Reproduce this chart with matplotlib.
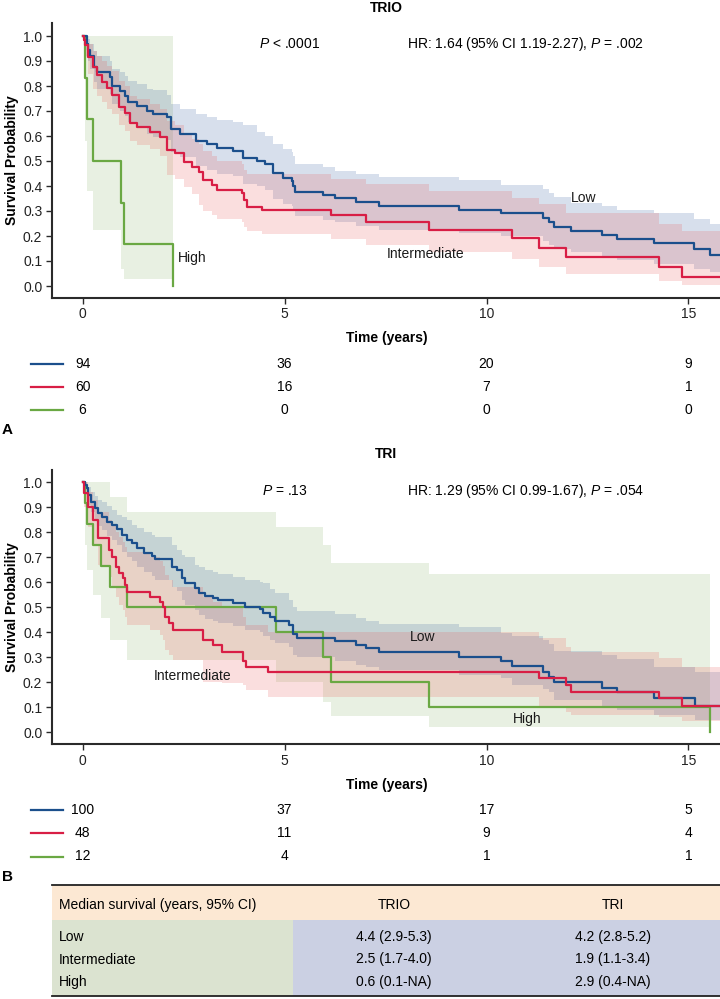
import matplotlib
matplotlib.use('Agg')
import matplotlib.pyplot as plt
from matplotlib import transforms
from matplotlib.patches import Rectangle
from matplotlib.lines import Line2D
import numpy as np

plt.rcParams['font.family'] = ['Liberation Sans', 'DejaVu Sans']
plt.rcParams['mathtext.fontset'] = 'custom'
plt.rcParams['mathtext.it'] = 'Liberation Sans:italic'
plt.rcParams['mathtext.rm'] = 'Liberation Sans'

# ---------------- DATA ----------------
# TRIO - Low
trio_low_t = [0, 0.1, 0.14, 0.18, 0.29, 0.36, 0.68, 0.74, 0.93, 1.05, 1.13, 1.34, 1.59, 1.75, 2.1, 2.2,
              2.41, 2.82, 3.07, 3.32, 3.73, 3.98, 4.31, 4.52, 4.72, 4.97, 5.18, 5.22, 5.26, 5.96, 6.25,
              6.77, 7.34, 9.32, 10.37, 11.39, 11.55, 11.67, 12.1, 12.86, 13.24, 14.14, 15.13, 15.53]
trio_low_s = [1.0, 0.97, 0.944, 0.92, 0.877, 0.855, 0.837, 0.8, 0.78, 0.76, 0.737, 0.72, 0.70, 0.687, 0.677, 0.63,
              0.61, 0.58, 0.567, 0.553, 0.54, 0.513, 0.50, 0.487, 0.453, 0.433, 0.42, 0.40, 0.377, 0.364, 0.351,
              0.335, 0.32, 0.304, 0.291, 0.273, 0.257, 0.237, 0.221, 0.204, 0.187, 0.171, 0.148, 0.125]
trio_low_lo = [1.0, 0.94, 0.9, 0.87, 0.815, 0.79, 0.77, 0.73, 0.70, 0.68, 0.655, 0.635, 0.61, 0.595, 0.585, 0.535,
               0.515, 0.48, 0.465, 0.45, 0.44, 0.41, 0.40, 0.385, 0.35, 0.33, 0.32, 0.30, 0.28, 0.265, 0.255,
               0.24, 0.225, 0.213, 0.2, 0.18, 0.165, 0.148, 0.135, 0.12, 0.105, 0.09, 0.07, 0.055]
trio_low_hi = [1.0, 1.0, 0.99, 0.97, 0.94, 0.92, 0.9, 0.87, 0.857, 0.84, 0.82, 0.81, 0.79, 0.784, 0.764, 0.73,
               0.71, 0.69, 0.675, 0.664, 0.655, 0.644, 0.617, 0.6, 0.57, 0.55, 0.537, 0.52, 0.49, 0.475, 0.46,
               0.448, 0.435, 0.424, 0.404, 0.387, 0.373, 0.357, 0.331, 0.32, 0.304, 0.291, 0.267, 0.248]

# TRIO - Intermediate
trio_int_t = [0, 0.03, 0.06, 0.14, 0.27, 0.35, 0.47, 0.6, 0.72, 0.89, 1.05, 1.18, 1.34, 1.67, 1.92, 2.08,
              2.29, 2.5, 2.7, 2.87, 2.99, 3.2, 3.32, 3.94, 4.0, 4.07, 4.45, 6.14, 7.01, 8.58, 10.62, 11.3,
              11.97, 14.27, 14.85]
trio_int_s = [1.0, 0.983, 0.964, 0.917, 0.877, 0.844, 0.817, 0.791, 0.764, 0.717, 0.691, 0.651, 0.637, 0.617,
              0.597, 0.544, 0.531, 0.497, 0.477, 0.457, 0.424, 0.404, 0.384, 0.371, 0.344, 0.317, 0.304, 0.284,
              0.257, 0.224, 0.191, 0.153, 0.115, 0.077, 0.037]
trio_int_lo = [1.0, 0.95, 0.92, 0.85, 0.79, 0.76, 0.737, 0.71, 0.69, 0.644, 0.62, 0.58, 0.565, 0.55, 0.52, 0.444,
               0.43, 0.397, 0.37, 0.324, 0.30, 0.285, 0.27, 0.255, 0.237, 0.22, 0.207, 0.187, 0.164, 0.137,
               0.107, 0.075, 0.047, 0.021, 0.004]
trio_int_hi = [1.0, 1.0, 0.99, 0.97, 0.94, 0.92, 0.9, 0.88, 0.86, 0.82, 0.8, 0.76, 0.75, 0.73, 0.71, 0.66,
               0.645, 0.61, 0.59, 0.57, 0.54, 0.52, 0.5, 0.49, 0.465, 0.45, 0.448, 0.428, 0.408, 0.381, 0.353,
               0.327, 0.293, 0.248, 0.22]

# TRIO - High
trio_high_t = [0, 0.06, 0.1, 0.27, 0.95, 1.02, 2.23]
trio_high_s = [1.0, 0.833, 0.667, 0.5, 0.333, 0.167, 0.0]
trio_high_lo = [1.0, 0.58, 0.38, 0.225, 0.07, 0.03, 0.03]
trio_high_hi = [1.0, 1.0, 1.0, 1.0, 1.0, 1.0, 1.0]

# TRI - Low
tri_low_t = [0, 0.06, 0.1, 0.14, 0.22, 0.3, 0.39, 0.47, 0.6, 0.72, 0.84, 0.97, 1.09, 1.22, 1.34, 1.51, 1.72,
             1.8, 2.21, 2.33, 2.46, 2.54, 2.79, 2.87, 3.03, 3.24, 3.36, 3.73, 4.02, 4.39, 4.47, 4.64, 4.76,
             5.12, 5.2, 5.3, 6.25, 6.77, 7.01, 7.34, 9.32, 10.37, 10.62, 11.4, 11.55, 11.67, 12.87, 13.24,
             14.14, 15.16]
tri_low_s = [1.0, 0.99, 0.976, 0.949, 0.922, 0.896, 0.876, 0.863, 0.843, 0.83, 0.812, 0.789, 0.769, 0.756,
             0.736, 0.718, 0.705, 0.692, 0.662, 0.649, 0.616, 0.596, 0.576, 0.558, 0.545, 0.536, 0.529, 0.518,
             0.502, 0.492, 0.476, 0.462, 0.446, 0.429, 0.393, 0.378, 0.365, 0.349, 0.338, 0.322, 0.302, 0.285,
             0.265, 0.243, 0.223, 0.203, 0.179, 0.16, 0.136, 0.107]
tri_low_lo = [1.0, 0.97, 0.95, 0.91, 0.88, 0.85, 0.825, 0.81, 0.785, 0.77, 0.75, 0.72, 0.70, 0.685, 0.66, 0.64,
              0.625, 0.61, 0.58, 0.565, 0.53, 0.51, 0.49, 0.47, 0.455, 0.445, 0.438, 0.425, 0.41, 0.40, 0.385,
              0.37, 0.356, 0.34, 0.31, 0.30, 0.285, 0.27, 0.26, 0.249, 0.229, 0.216, 0.189, 0.175, 0.162, 0.129,
              0.105, 0.089, 0.069, 0.049]
tri_low_hi = [1.0, 1.0, 0.99, 0.98, 0.96, 0.945, 0.93, 0.922, 0.905, 0.889, 0.87, 0.86, 0.849, 0.83, 0.816, 0.8,
              0.789, 0.78, 0.749, 0.73, 0.71, 0.702, 0.669, 0.66, 0.649, 0.64, 0.635, 0.622, 0.61, 0.6, 0.596,
              0.575, 0.556, 0.53, 0.502, 0.487, 0.472, 0.456, 0.445, 0.433, 0.42, 0.398, 0.385, 0.37, 0.355,
              0.325, 0.309, 0.292, 0.262, 0.242]

# TRI - Intermediate
tri_int_t = [0, 0.03, 0.14, 0.27, 0.39, 0.66, 0.74, 0.82, 0.91, 0.99, 1.05, 1.09, 1.67, 1.92, 2.0, 2.05, 2.14,
             2.23, 2.97, 3.22, 3.45, 3.97, 4.05, 4.6, 11.3, 11.97, 12.1, 14.27, 14.85]
tri_int_s = [1.0, 0.956, 0.9, 0.85, 0.776, 0.729, 0.7, 0.662, 0.636, 0.616, 0.589, 0.56, 0.542, 0.522, 0.502,
             0.462, 0.436, 0.409, 0.369, 0.349, 0.322, 0.287, 0.263, 0.24, 0.216, 0.189, 0.16, 0.136, 0.106]
tri_int_lo = [1.0, 0.9, 0.82, 0.75, 0.67, 0.62, 0.58, 0.54, 0.51, 0.49, 0.46, 0.43, 0.41, 0.39, 0.37, 0.33,
              0.31, 0.29, 0.2, 0.2, 0.196, 0.19, 0.169, 0.142, 0.102, 0.08, 0.069, 0.06, 0.046]
tri_int_hi = [1.0, 1.0, 0.96, 0.93, 0.88, 0.85, 0.83, 0.8, 0.78, 0.76, 0.74, 0.72, 0.70, 0.685, 0.665, 0.63,
              0.61, 0.58, 0.54, 0.52, 0.5, 0.46, 0.43, 0.40, 0.376, 0.342, 0.322, 0.296, 0.26]

# TRI - High
tri_high_t = [0, 0.07, 0.1, 0.27, 0.45, 0.68, 1.1, 4.79, 5.94, 6.14, 8.58, 15.53]
tri_high_s = [1.0, 0.917, 0.833, 0.75, 0.667, 0.583, 0.5, 0.4, 0.3, 0.2, 0.1, 0.0]
tri_high_lo = [1.0, 0.75, 0.649, 0.549, 0.456, 0.369, 0.289, 0.2, 0.12, 0.066, 0.022, 0.022]
tri_high_hi = [1.0, 1.0, 1.0, 1.0, 1.0, 0.94, 0.882, 0.82, 0.75, 0.676, 0.633, 0.633]

# numbers at risk
risk_times = [0, 5, 10, 15]
trio_risk_low = [94, 36, 20, 9]
trio_risk_int = [60, 16, 7, 1]
trio_risk_high = [6, 0, 0, 0]
tri_risk_low = [100, 37, 17, 5]
tri_risk_int = [48, 11, 9, 4]
tri_risk_high = [12, 4, 1, 1]

# median survival table
table_header = ['Median survival (years, 95% CI)', 'TRIO', 'TRI']
table_groups = ['Low', 'Intermediate', 'High']
table_trio = ['4.4 (2.9-5.3)', '2.5 (1.7-4.0)', '0.6 (0.1-NA)']
table_tri = ['4.2 (2.8-5.2)', '1.9 (1.1-3.4)', '2.9 (0.4-NA)']

# ---------------- STYLE ----------------
C_LOW = '#1b4f8c'
C_INT = '#d81e45'
C_HIGH = '#6aa843'
F_LOW = '#3a5fa0'
F_INT = '#e85a5a'
F_HIGH = '#8db870'
FILL_A = 0.2
FS = 10

W, H = 720, 999
fig = plt.figure(figsize=(7.2, 9.99), dpi=100)


def fx(px):
    return px / W


def fy(py):
    return 1 - py / H


X_LO, X_HI = -0.757, 15.78


def curve(ax, t, s, lo, hi, t_end, color, fill):
    x = list(t) + [t_end]
    y = list(s) + [s[-1]]
    l = list(lo) + [lo[-1]]
    h = list(hi) + [hi[-1]]
    ax.fill_between(x, l, h, step='post', color=fill, alpha=FILL_A, lw=0)
    return x, y


def style_axes(ax, title):
    ax.set_xlim(X_LO, X_HI)
    for sp in ['top', 'right']:
        ax.spines[sp].set_visible(False)
    for sp in ['left', 'bottom']:
        ax.spines[sp].set_linewidth(1.5)
        ax.spines[sp].set_color('#2a2a2a')
    ax.set_xticks([0, 5, 10, 15])
    ax.set_yticks(np.round(np.arange(0, 1.01, 0.1), 1))
    ax.set_yticklabels(['%.1f' % v for v in np.arange(0, 1.01, 0.1)])
    ax.tick_params(direction='out', length=4, width=1, labelsize=FS, pad=3, colors='#2a2a2a',
                   labelcolor='#222222')


def panel(rect, ylim, curves, title, title_py, pt_text, hr_text, label_specs, xlabel_py, risk_py, risks):
    ax = fig.add_axes(rect)
    lines = []
    for (t, s, lo, hi, tend, c, f) in curves:
        lines.append((curve(ax, t, s, lo, hi, tend, c, f), c))
    for (x, y), c in lines:
        ax.step(x, y, where='post', color=c, lw=1.6)
    ax.set_ylim(*ylim)
    style_axes(ax, title)
    fig.text(fx(386), fy(title_py), title, ha='center', va='center', fontsize=10, fontweight='bold')
    ax.text(pt_text[0], pt_text[1], pt_text[2], ha='center', va='center', fontsize=10)
    ax.text(hr_text[0], hr_text[1], hr_text[2], ha='left', va='center', fontsize=10)
    for (tx, ty, txt, ha) in label_specs:
        ax.text(tx, ty, txt, ha=ha, va='center', fontsize=10, color='#1a1a1a')
    fig.text(fx(387), fy(xlabel_py), 'Time (years)', ha='center', va='center', fontsize=10,
             fontweight='bold')
    ycenter = (rect[1] + rect[3] / 2)
    fig.text(fx(12), ycenter, 'Survival Probability', rotation=90, ha='center', va='center',
             fontsize=10, fontweight='bold')
    trans = transforms.blended_transform_factory(ax.transData, fig.transFigure)
    for py, vals, col in zip(risk_py, risks, [C_LOW, C_INT, C_HIGH]):
        fig.add_artist(Line2D([fx(31), fx(63)], [fy(py), fy(py)], color=col, lw=1.6,
                              transform=fig.transFigure))
        for tt, v in zip(risk_times, vals):
            fig.text(tt, fy(py), str(v), transform=trans, ha='center', va='center', fontsize=FS)
    return ax


# Panel A: TRIO
top_rect = [fx(52), fy(297.5), 1 - fx(52), (297.5 - 23) / H]
panel(top_rect, (-0.046, 1.052),
      [(trio_high_t, trio_high_s, trio_high_lo, trio_high_hi, 2.23, C_HIGH, F_HIGH),
       (trio_low_t, trio_low_s, trio_low_lo, trio_low_hi, 16.5, C_LOW, F_LOW),
       (trio_int_t, trio_int_s, trio_int_lo, trio_int_hi, 16.5, C_INT, F_INT)],
      'TRIO', 8,
      (5.13, 0.968, r'$\it{P}$ < .0001'),
      (8.02, 0.968, r'HR: 1.64 (95% CI 1.19-2.27), $\it{P}$ = .002'),
      [(2.36, 0.112, 'High', 'left'), (12.4, 0.352, 'Low', 'center'),
       (8.5, 0.128, 'Intermediate', 'center')],
      338, [363.5, 387, 410], [trio_risk_low, trio_risk_int, trio_risk_high])

# Panel B: TRI
bot_rect = [fx(52), fy(744), 1 - fx(52), (744 - 470) / H]
panel(bot_rect, (-0.047, 1.049),
      [(tri_high_t, tri_high_s, tri_high_lo, tri_high_hi, 15.53, C_HIGH, F_HIGH),
       (tri_low_t, tri_low_s, tri_low_lo, tri_low_hi, 16.5, C_LOW, F_LOW),
       (tri_int_t, tri_int_s, tri_int_lo, tri_int_hi, 16.5, C_INT, F_INT)],
      'TRI', 454,
      (5.01, 0.965, r'$\it{P}$ = .13'),
      (8.02, 0.965, r'HR: 1.29 (95% CI 0.99-1.67), $\it{P}$ = .054'),
      [(8.41, 0.38, 'Low', 'center'), (11.0, 0.052, 'High', 'center'),
       (2.72, 0.225, 'Intermediate', 'center')],
      785, [809.5, 833, 856.5], [tri_risk_low, tri_risk_int, tri_risk_high])

# panel letters
fig.text(fx(2), fy(430), 'A', ha='left', va='center', fontsize=11, fontweight='bold')
fig.text(fx(2), fy(877), 'B', ha='left', va='center', fontsize=11, fontweight='bold')

# ---------------- TABLE ----------------
def frect(x0, y0, x1, y1, color):
    fig.add_artist(Rectangle((fx(x0), fy(y1)), fx(x1) - fx(x0), fy(y0) - fy(y1),
                             transform=fig.transFigure, facecolor=color, edgecolor='none'))

frect(52, 885, 720, 920, '#fce8d3')
frect(52, 920, 293, 996, '#dbe3d0')
frect(293, 920, 720, 996, '#cbd0e3')
for py in [885, 996]:
    fig.add_artist(Line2D([fx(52), 1], [fy(py), fy(py)], color='#222222', lw=1.3,
                          transform=fig.transFigure))

fig.text(fx(59), fy(905), table_header[0], ha='left', va='center', fontsize=FS)
fig.text(fx(394), fy(905), table_header[1], ha='center', va='center', fontsize=FS)
fig.text(fx(613), fy(905), table_header[2], ha='center', va='center', fontsize=FS)
for py, g, a, b in zip([937, 959.5, 982], table_groups, table_trio, table_tri):
    fig.text(fx(59), fy(py), g, ha='left', va='center', fontsize=FS)
    fig.text(fx(394), fy(py), a, ha='center', va='center', fontsize=FS)
    fig.text(fx(613), fy(py), b, ha='center', va='center', fontsize=FS)

fig.savefig('out.png', dpi=100)
